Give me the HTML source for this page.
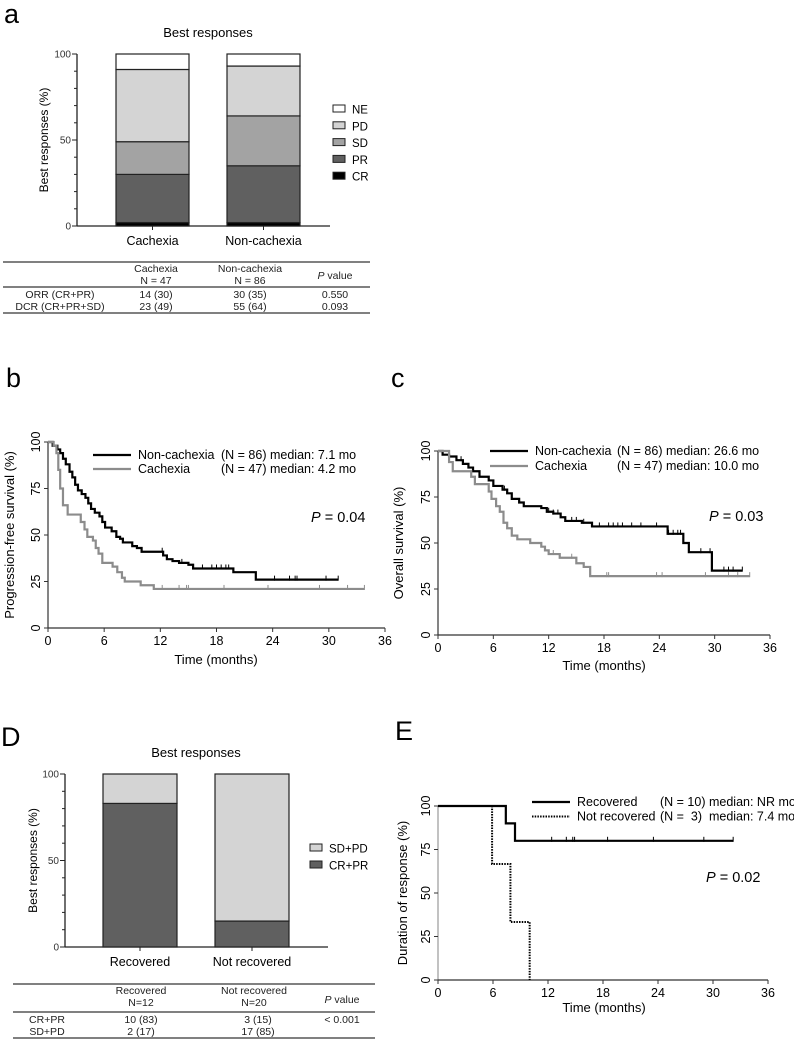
<!DOCTYPE html>
<html><head><meta charset="utf-8">
<style>
html,body{margin:0;padding:0;background:#fff;}
svg{display:block;font-family:"Liberation Sans",Arial,sans-serif;}
</style></head>
<body>
<svg id="fig" width="794" height="1039" viewBox="0 0 794 1039" xmlns="http://www.w3.org/2000/svg">
<text x="4" y="23" font-size="27">a</text>
<text x="6" y="387" font-size="27">b</text>
<text x="391" y="387" font-size="27">c</text>
<text x="1" y="746" font-size="27">D</text>
<text x="395" y="740" font-size="27">E</text>

<g font-size="10.5" text-anchor="middle" fill="#222">
<line x1="3" y1="262" x2="370" y2="262" stroke="#000" stroke-width="1"/>
<line x1="3" y1="287" x2="370" y2="287" stroke="#000" stroke-width="1"/>
<line x1="3" y1="313" x2="370" y2="313" stroke="#000" stroke-width="1"/>
<text x="156" y="272">Cachexia</text><text x="156" y="284">N = 47</text>
<text x="250" y="272">Non-cachexia</text><text x="250" y="284">N = 86</text>
<text x="335" y="279"><tspan font-style="italic">P</tspan> value</text>
<text x="60" y="298">ORR (CR+PR)</text><text x="156" y="298">14 (30)</text><text x="250" y="298">30 (35)</text><text x="335" y="298">0.550</text>
<text x="60" y="310">DCR (CR+PR+SD)</text><text x="156" y="310">23 (49)</text><text x="250" y="310">55 (64)</text><text x="335" y="310">0.093</text>
</g>

<g font-size="10.5" text-anchor="middle" fill="#222">
<line x1="13" y1="984" x2="375" y2="984" stroke="#000" stroke-width="1"/>
<line x1="13" y1="1012" x2="375" y2="1012" stroke="#000" stroke-width="1"/>
<line x1="13" y1="1038" x2="375" y2="1038" stroke="#000" stroke-width="1"/>
<text x="141" y="994">Recovered</text><text x="141" y="1006">N=12</text>
<text x="254" y="994">Not recovered</text><text x="254" y="1006">N=20</text>
<text x="342" y="1003"><tspan font-style="italic">P</tspan> value</text>
<text x="47" y="1023">CR+PR</text><text x="141" y="1023">10 (83)</text><text x="258" y="1023">3 (15)</text><text x="342" y="1023">&lt; 0.001</text>
<text x="47" y="1035">SD+PD</text><text x="141" y="1035">2 (17)</text><text x="258" y="1035">17 (85)</text>
</g>
</svg>
<script>
const aCategories = ["Cachexia", "Non-cachexia"];
const aSegments = ["CR", "PR", "SD", "PD", "NE"];
const aCachexia = [2, 28, 19, 42, 9];
const aNonCachexia = [2, 33, 29, 29, 7];
const aTicks = [0, 50, 100];

const dCategories = ["Recovered", "Not recovered"];
const dSegments = ["CR+PR", "SD+PD"];
const dRecovered = [83, 17];
const dNotRecovered = [15, 85];

const kmXTicks = [0, 6, 12, 18, 24, 30, 36];
const kmYTicks = [0, 25, 50, 75, 100];

const pfsNonSteps = [[0.5,98],[1,96],[1.3,94],[1.6,91],[1.9,88],[2.3,84],[2.6,81],[2.9,77],[3.2,74],[3.6,72],[4,70],[4.3,67],[4.6,64],[5,62],[5.5,60],[5.8,57],[6.1,54],[6.8,52],[7.3,49],[7.7,48],[8,46],[9,44],[9.5,43],[10,41],[12.3,39],[12.7,37],[13.3,36],[14,35],[15,34],[15.5,32],[19.8,30],[22.2,26]];
const pfsNonEnd = 31;
const pfsNonCensor = [12.2,14.3,16.5,17.5,18,18.5,19,19.3,24.2,25.8,26.4,26.6,29.7,31];
const pfsCacSteps = [[0.6,98],[0.9,94],[1.1,85],[1.3,75],[1.6,66],[2.1,61],[3.5,57],[3.9,53],[4.2,49],[4.8,47],[5.1,43],[5.4,40],[5.8,35],[6.9,33],[7.4,30],[7.9,27],[8.2,25],[9.9,23],[11.3,21]];
const pfsCacEnd = 33.8;
const pfsCacCensor = [12.2,14,14.8,15,18.8,23.5,29,32,33.8];

const osNonSteps = [[0.5,98],[1.2,97],[2,95],[2.7,93],[3.3,91],[3.8,89],[4.5,86],[5.5,84],[6,81],[7,79],[7.5,77],[8,74],[8.8,72],[9.3,70],[11.2,69],[11.8,67],[12.5,66],[13.3,64],[13.8,62],[15.6,61],[16.7,59],[24.9,55],[26.6,50],[27.2,45],[29.7,35]];
const osNonEnd = 33;
const osNonCensor = [2.5,7.2,12,12.5,13,14.5,15,15.8,17.5,18.5,19,19.5,20,21,22,23.7,25,25.5,26,26.3,28.5,29.5,31,31.5,32,33];
const osCacSteps = [[1.2,94],[1.6,89],[3.6,86],[4,82],[5.5,78],[5.8,74],[6.3,70],[6.7,67],[7.1,61],[7.5,58],[8,54],[8.6,52],[10,50],[11.2,48],[11.6,46],[12,44],[13.2,42],[15,39],[15.8,37],[16.5,32]];
const osCacEnd = 33.8;
const osCacCensor = [12.5,14.5,18.3,18.5,23.7,24.3,29,31.5,32.5,33.8];

const dorRecSteps = [[7.4,90],[8.4,80]];
const dorRecEnd = 32.2;
const dorRecCensor = [12.4,14,14.7,14.9,18.5,23.5,29,32.2];
const dorNotSteps = [[5.9,66.7],[7.9,33.3],[10,0]];
const dorNotEnd = 10;
const dorNotCensor = [];

const svg = document.getElementById('fig');
const NS = 'http://www.w3.org/2000/svg';
function mk(tag, attrs, parent, txt) {
  const e = document.createElementNS(NS, tag);
  for (const k in attrs) e.setAttribute(k, attrs[k]);
  if (txt !== undefined) e.textContent = txt;
  (parent || svg).appendChild(e);
  return e;
}

function stackedChart(cfg) {
  const g = mk('g', {});
  
  
  const y = v => cfg.y0 + (cfg.y1 - cfg.y0) * v / 100;
  const t = mk('text', {x: cfg.titleX, y: cfg.titleY, 'font-size': 13, 'text-anchor': 'middle'}, g, 'Best responses');
  
  
  const ax = mk('line', {x1: cfg.ax, y1: y(100), x2: cfg.ax, y2: y(0), stroke: '#222', 'stroke-width': 1.3}, g);
  
  
  for (let v = 0; v <= 100; v += 10) {
    mk('line', {x1: cfg.ax - (v % 50 === 0 ? 5 : 3), y1: y(v), x2: cfg.ax, y2: y(v), stroke: '#222', 'stroke-width': 1}, g);
  }
  aTicks.forEach(v => {
    const tl = mk('text', {x: cfg.ax - 6, y: y(v) + 3.5, 'font-size': 10, 'text-anchor': 'end', fill: '#333'}, g, v);
    
    
  });
  const xa = mk('line', {x1: cfg.ax, y1: y(0), x2: cfg.axEnd, y2: y(0), stroke: '#222', 'stroke-width': 1.3}, g);
  
  
  const yl = mk('text', {x: 0, y: 0, 'font-size': 12, 'text-anchor': 'middle', transform: `translate(${cfg.ylX},${(y(0)+y(100))/2}) rotate(-90)`}, g, 'Best responses (%)');
  
  
  cfg.cats.forEach((c, i) => {
    const bx = cfg.barX[i];
    let acc = 0;
    cfg.series[i].forEach((v, j) => {
      const r = mk('rect', {x: bx, y: y(acc + v), width: cfg.barW, height: y(acc) - y(acc + v), fill: cfg.colors[j], stroke: '#222', 'stroke-width': 1.2}, g);
      
      
      acc += v;
    });
    mk('line', {x1: bx + cfg.barW / 2, y1: y(0), x2: bx + cfg.barW / 2, y2: y(0) + 4, stroke: '#222'}, g);
    const xl = mk('text', {x: bx + cfg.barW / 2, y: y(0) + 19, 'font-size': 12.5, 'text-anchor': 'middle'}, g, c);
    
    
  });
  const n = cfg.segs.length;
  for (let k = 0; k < n; k++) {
    const j = n - 1 - k;
    const ly = cfg.legY + k * cfg.legDy;
    const le = mk('g', {}, g);
    
    
    mk('rect', {x: cfg.legX, y: ly - 4, width: 12, height: 7, fill: cfg.colors[j], stroke: '#222', 'stroke-width': 1}, le);
    mk('text', {x: cfg.legX + 19, y: ly + 4.5, 'font-size': 11.5}, le, cfg.segs[j]);
  }
}

stackedChart({name: 'best-responses-chart-a', y0: 226, y1: 54, ax: 77, axEnd: 330, barX: [116, 227], barW: 73,
  cats: aCategories, segs: aSegments, series: [aCachexia, aNonCachexia],
  colors: ['#000', '#606060', '#a3a3a3', '#d4d4d4', '#fff'],
  titleX: 208, titleY: 37, ylX: 48, legX: 333, legY: 109, legDy: 16.8});

stackedChart({name: 'best-responses-chart-d', y0: 947, y1: 774, ax: 65, axEnd: 328, barX: [103, 215], barW: 74,
  cats: dCategories, segs: dSegments, series: [dRecovered, dNotRecovered],
  colors: ['#606060', '#d4d4d4'],
  titleX: 196, titleY: 757, ylX: 37, legX: 310, legY: 848, legDy: 17});

function kmChart(cfg) {
  const g = mk('g', {});
  
  
  const X = t => cfg.x0 + (cfg.x1 - cfg.x0) * t / 36;
  const Y = v => cfg.y0 + (cfg.y1 - cfg.y0) * v / 100;
  const ya = mk('line', {x1: X(0), y1: Y(100), x2: X(0), y2: Y(0), stroke: cfg.axisColor, 'stroke-width': 1.2}, g);
  
  
  const xa = mk('line', {x1: X(0), y1: Y(0), x2: X(36), y2: Y(0), stroke: '#333', 'stroke-width': 1.2}, g);
  
  
  kmXTicks.forEach(t => {
    mk('line', {x1: X(t), y1: Y(0), x2: X(t), y2: Y(0) + 4, stroke: '#333'}, g);
    const tl = mk('text', {x: X(t), y: Y(0) + 17, 'font-size': 12.5, 'text-anchor': 'middle'}, g, t);
    
    
  });
  kmYTicks.forEach(v => {
    mk('line', {x1: X(0) - 4, y1: Y(v), x2: X(0), y2: Y(v), stroke: '#333'}, g);
    const tl = mk('text', {x: 0, y: 0, 'font-size': 12.5, 'text-anchor': 'middle', transform: `translate(${X(0) - 8},${Y(v)}) rotate(-90)`}, g, v);
    
    
  });
  const xt = mk('text', {x: cfg.xtX, y: cfg.xtY, 'font-size': 13, 'text-anchor': 'middle'}, g, 'Time (months)');
  
  
  const yt = mk('text', {x: 0, y: 0, 'font-size': 13, 'text-anchor': 'middle', transform: `translate(${cfg.ytX},${(Y(0)+Y(100))/2}) rotate(-90)`}, g, cfg.ytitle);
  
  
  cfg.series.forEach((s, i) => {
    let d = `M${X(0)},${Y(100)}`;
    s.steps.forEach(([t, v]) => { d += ` H${X(t)} V${Y(v)}`; });
    d += ` H${X(s.end)}`;
    const p = mk('path', {d: d, fill: 'none', stroke: s.color, 'stroke-width': s.width, 'stroke-dasharray': s.dash || 'none'}, g);
    
    
    s.censor.forEach(t => {
      let v = 100;
      s.steps.forEach(([tt, vv]) => { if (tt <= t) v = vv; });
      const c = mk('line', {x1: X(t), y1: Y(v) - 4, x2: X(t), y2: Y(v) + 1, stroke: s.color, 'stroke-width': 1}, g);
      
      
    });
    const le = mk('g', {}, g);
    
    
    const ly = cfg.legY + i * cfg.legDy;
    mk('line', {x1: cfg.legX, y1: ly, x2: cfg.legX + 38, y2: ly, stroke: s.color, 'stroke-width': s.width, 'stroke-dasharray': s.dash || 'none'}, le);
    mk('text', {x: cfg.legX + 45, y: ly + 4, 'font-size': 12.5}, le, s.label);
    mk('text', {x: cfg.legX2, y: ly + 4, 'font-size': 12.5}, le, s.stat);
  });
  const pt = mk('text', {x: cfg.pX, y: cfg.pY, 'font-size': 14.5}, g);
  
  
  mk('tspan', {'font-style': 'italic'}, pt, 'P');
  mk('tspan', {}, pt, ' = ' + cfg.p);
}

kmChart({name: 'pfs-chart-b', x0: 48, x1: 385, y0: 628, y1: 442, axisColor: '#333',
  ytitle: 'Progression-free survival (%)', ytX: 14, xtX: 216, xtY: 664,
  legX: 93, legX2: 221, legY: 455, legDy: 14, pX: 311, pY: 522, p: '0.04',
  series: [
    {key: 'non-cachexia', label: 'Non-cachexia', stat: '(N = 86) median: 7.1 mo', color: '#000', width: 2.2, steps: pfsNonSteps, end: pfsNonEnd, censor: pfsNonCensor},
    {key: 'cachexia', label: 'Cachexia', stat: '(N = 47) median: 4.2 mo', color: '#8c8c8c', width: 2.2, steps: pfsCacSteps, end: pfsCacEnd, censor: pfsCacCensor}
  ]});

kmChart({name: 'os-chart-c', x0: 438, x1: 770, y0: 635, y1: 451, axisColor: '#333',
  ytitle: 'Overall survival (%)', ytX: 403, xtX: 604, xtY: 670,
  legX: 490, legX2: 617, legY: 451, legDy: 15, pX: 709, pY: 521, p: '0.03',
  series: [
    {key: 'non-cachexia', label: 'Non-cachexia', stat: '(N = 86) median: 26.6 mo', color: '#000', width: 2.2, steps: osNonSteps, end: osNonEnd, censor: osNonCensor},
    {key: 'cachexia', label: 'Cachexia', stat: '(N = 47) median: 10.0 mo', color: '#8c8c8c', width: 2.2, steps: osCacSteps, end: osCacEnd, censor: osCacCensor}
  ]});

kmChart({name: 'dor-chart-e', x0: 438, x1: 768, y0: 980, y1: 806, axisColor: '#999',
  ytitle: 'Duration of response (%)', ytX: 407, xtX: 604, xtY: 1012,
  legX: 532, legX2: 660, legY: 802, legDy: 14.5, pX: 706, pY: 882, p: '0.02',
  series: [
    {key: 'recovered', label: 'Recovered', stat: '(N = 10) median: NR mo', color: '#000', width: 2.2, steps: dorRecSteps, end: dorRecEnd, censor: dorRecCensor},
    {key: 'not-recovered', label: 'Not recovered', stat: '(N =\u00a0\u00a03)\u00a0 median: 7.4 mo', color: '#000', width: 2, dash: '1.5,1.2', steps: dorNotSteps, end: dorNotEnd, censor: dorNotCensor}
  ]});
</script>
</body></html>
